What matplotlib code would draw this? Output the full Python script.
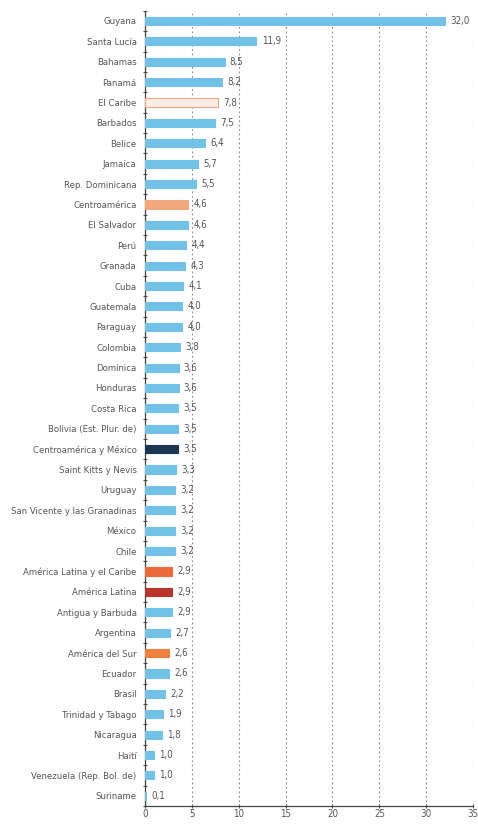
import numpy as np
import matplotlib.pyplot as plt
from matplotlib.ticker import FixedLocator

countries = ['Guyana', 'Santa Lucía', 'Bahamas', 'Panamá', 'El Caribe', 'Barbados',
             'Belice', 'Jamaica', 'Rep. Dominicana', 'Centroamérica', 'El Salvador',
             'Perú', 'Granada', 'Cuba', 'Guatemala', 'Paraguay', 'Colombia',
             'Dominica', 'Honduras', 'Costa Rica', 'Bolivia (Est. Plur. de)',
             'Centroamérica y México', 'Saint Kitts y Nevis', 'Uruguay',
             'San Vicente y las Granadinas', 'México', 'Chile',
             'América Latina y el Caribe', 'América Latina', 'Antigua y Barbuda',
             'Argentina', 'América del Sur', 'Ecuador', 'Brasil', 'Trinidad y Tabago',
             'Nicaragua', 'Haití', 'Venezuela (Rep. Bol. de)', 'Suriname']
values = [32.0, 11.9, 8.5, 8.2, 7.8, 7.5, 6.4, 5.7, 5.5, 4.6, 4.6, 4.4, 4.3, 4.1,
          4.0, 4.0, 3.8, 3.6, 3.6, 3.5, 3.5, 3.5, 3.3, 3.2, 3.2, 3.2, 3.2, 2.9, 2.9,
          2.9, 2.7, 2.6, 2.6, 2.2, 1.9, 1.8, 1.0, 1.0, 0.1]
xticks = [0, 5, 10, 15, 20, 25, 30, 35]

# colours for the regional aggregates, the rest are countries
blue = '#72c2e8'
special = {
    'El Caribe': ('#fdeee4', '#f2a882'),
    'Centroamérica': ('#f2a77e', '#f2a77e'),
    'Centroamérica y México': ('#1c3553', '#1c3553'),
    'América Latina y el Caribe': ('#ec6a3c', '#ec6a3c'),
    'América Latina': ('#b8352b', '#b8352b'),
    'América del Sur': ('#ef7f3c', '#ef7f3c'),
}

plt.rcParams['font.family'] = ['DejaVu Sans']
plt.rcParams['font.stretch'] = 'condensed'

fig = plt.figure(figsize=(4.78, 8.27), dpi=100)
ax = fig.add_axes([0.303, 0.0254, 0.687, 0.9616])

y = np.arange(len(countries))
faces = [special.get(c, (blue, blue))[0] for c in countries]
edges = [special.get(c, (blue, blue))[1] for c in countries]
ax.barh(y, values, height=0.4, color=faces, edgecolor=edges, linewidth=0.8, zorder=3)

for yi, v in zip(y, values):
    ax.text(v + 0.55, yi, f'{v:.1f}'.replace('.', ','), va='center', ha='left',
            fontsize=7, color='#555555', zorder=4)

ax.set_ylim(len(countries) - 0.5, -0.5)
ax.set_xlim(0, 35)
ax.set_yticks(y)
ax.set_yticklabels(countries, fontsize=6.8, color='#555555')
ax.tick_params(axis='y', length=0, pad=6)
ax.yaxis.set_minor_locator(FixedLocator(np.arange(-0.5, len(countries), 1)))
ax.tick_params(axis='y', which='minor', length=2.5, width=0.8, direction='inout', color='#555555')

ax.set_xticks(xticks)
ax.set_xticklabels([str(t) for t in xticks], fontsize=7, color='#555555')
ax.tick_params(axis='x', length=3, direction='inout', color='#555555', pad=1)
ax.grid(axis='x', linestyle=(0, (1.5, 2.5)), color='#888888', linewidth=0.8, zorder=0)

for s in ['top', 'right']:
    ax.spines[s].set_visible(False)
ax.spines['left'].set_color('#444444')
ax.spines['bottom'].set_color('#444444')
ax.spines['left'].set_linewidth(0.9)
ax.spines['bottom'].set_linewidth(0.9)

fig.savefig('out.png', dpi=100)
